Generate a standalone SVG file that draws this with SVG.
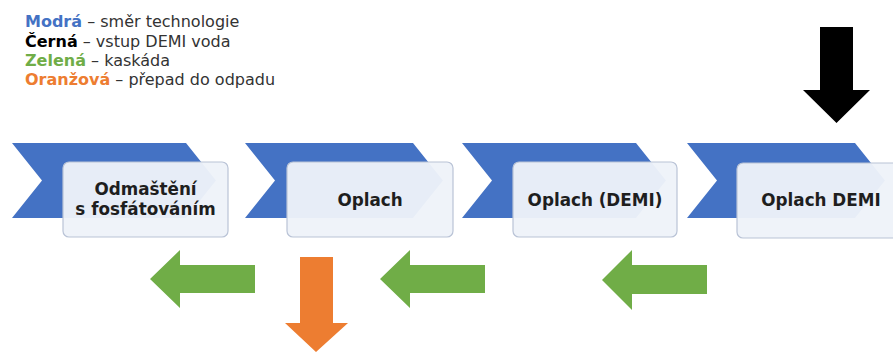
<svg xmlns="http://www.w3.org/2000/svg" width="893" height="352" viewBox="0 0 893 352">
<style>
.chev{fill:#4472C4}
.box{fill:#eef2f9;fill-opacity:0.96;stroke:#b9c3d6;stroke-width:1.2}
.lbl{font-family:"DejaVu Sans",Verdana,sans-serif;font-weight:bold;font-size:16.8px;fill:#1e1e1e;text-anchor:middle}
.leg{font-family:"DejaVu Sans",Verdana,sans-serif;font-size:16px;fill:#333}
.b{font-weight:bold}
.green{fill:#70AD47}
.orange{fill:#ED7D31}
</style>
<rect width="893" height="352" fill="#ffffff"/>
<g id="legend">
<text class="leg" x="25" y="27"><tspan class="b" fill="#4472C4">Modrá</tspan> – směr technologie</text>
<text class="leg" x="25" y="47"><tspan class="b" fill="#000">Černá</tspan> – vstup DEMI voda</text>
<text class="leg" x="25" y="66"><tspan class="b" fill="#70AD47">Zelená</tspan> – kaskáda</text>
<text class="leg" x="25" y="85"><tspan class="b" fill="#ED7D31">Oranžová</tspan> – přepad do odpadu</text>
</g>
<g id="step1">
<polygon class="chev" points="12,143 186,143 216,180.5 186,218 12,218 42,180.5"/>
<rect class="box" x="63" y="162" width="165" height="75" rx="6"/>
<text class="lbl" x="145.5" y="195">Odmaštění</text>
<text class="lbl" x="145.5" y="215">s fosfátováním</text>
</g>
<g id="step2">
<polygon class="chev" points="245,143 413,143 443,180.5 413,218 245,218 275,180.5"/>
<rect class="box" x="287" y="162" width="166" height="75" rx="6"/>
<text class="lbl" x="370" y="206">Oplach</text>
</g>
<g id="step3">
<polygon class="chev" points="462,143 636,143 666,180.5 636,218 462,218 492,180.5"/>
<rect class="box" x="513" y="162" width="164" height="75" rx="6"/>
<text class="lbl" x="595" y="206">Oplach (DEMI)</text>
</g>
<g id="step4">
<polygon class="chev" points="687,143 855,143 885,180.5 855,218 687,218 717,180.5"/>
<rect class="box" x="737" y="163" width="170" height="75" rx="6"/>
<text class="lbl" x="821" y="206">Oplach DEMI</text>
</g>
<g id="connectors">
<polygon id="demi-in" fill="#000" points="820,27 853,27 853,90 870,90 836.5,123 803,90 820,90"/>
<polygon class="green" points="255,265 180,265 180,250 150,279 180,308 180,293 255,293"/>
<polygon class="green" points="485,265 410,265 410,250 380,279 410,308 410,293 485,293"/>
<polygon class="green" points="707,265 632,265 632,250 602,280 632,310 632,294 707,294"/>
<polygon class="orange" points="300,257 333,257 333,323 348,323 316,352 285,323 300,323"/>
</g>
</svg>
